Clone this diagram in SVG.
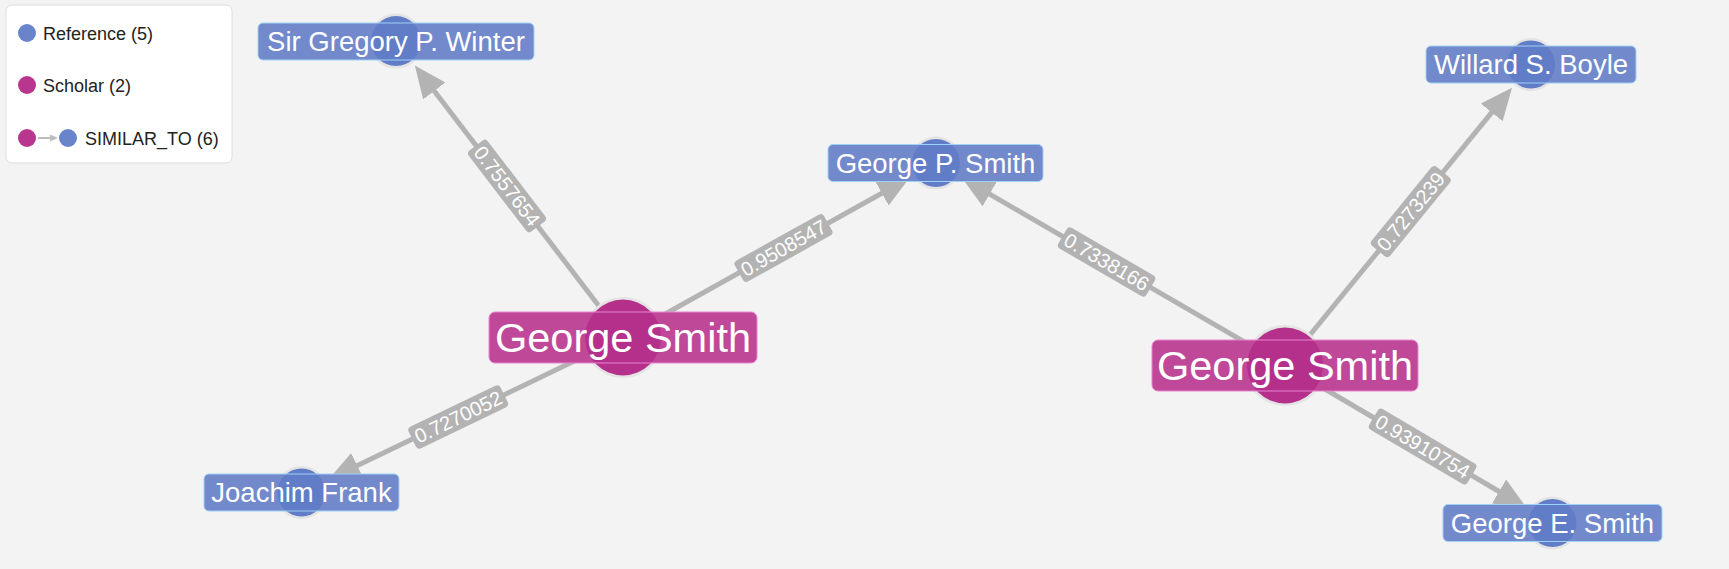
<svg xmlns="http://www.w3.org/2000/svg" width="1729" height="569" viewBox="0 0 1729 569">
<style>
.edge{stroke:#b3b3b3;stroke-width:5;fill:none}
.elbl rect{fill:#b3b3b3}
.elbl text{fill:#ffffff;font-family:"Liberation Sans",Arial,sans-serif;font-size:20px;text-anchor:middle}
.h{fill:none;stroke:#e4e4e4;stroke-width:3}
.ref .c{fill:#627dc8}
.ref .b{fill:#7289cc}
.ref .s{fill:none;stroke:#9fd0f5;stroke-width:1}
.sch .c{fill:#b5308a}
.sch .b{fill:#c04898}
.sch .s{fill:none;stroke:#e883cf;stroke-width:1}
.nt{fill:#ffffff;font-family:"Liberation Sans",Arial,sans-serif;text-anchor:middle}
.ref .nt{font-size:27.5px}
.sch .nt{font-size:41.5px}
.lg{fill:#222222;font-family:"Liberation Sans",Arial,sans-serif;font-size:18px}
</style>
<defs>
<marker id="ah" markerUnits="userSpaceOnUse" viewBox="0 0 32 30" markerWidth="32" markerHeight="30" refX="1" refY="15" orient="auto">
<path d="M0,1 L32,15 L0,29 z" fill="#b3b3b3"/>
</marker>
<marker id="ahs" markerUnits="userSpaceOnUse" viewBox="0 0 8 8" markerWidth="8" markerHeight="8" refX="1" refY="4" orient="auto">
<path d="M0,0.5 L8,4 L0,7.5 z" fill="#bdbdbd"/>
</marker>
</defs>
<rect x="0" y="0" width="1729" height="569" fill="#f3f3f3"/>

<g id="legend">
<rect x="6" y="5" width="226" height="158" rx="6" fill="#ffffff" stroke="#dddddd" stroke-width="1"/>
<circle cx="27" cy="33" r="9" fill="#6a84cc"/>
<text class="lg" x="43" y="39.5">Reference (5)</text>
<circle cx="27" cy="85" r="9" fill="#b8368e"/>
<text class="lg" x="43" y="91.5">Scholar (2)</text>
<circle cx="27" cy="138" r="9" fill="#b8368e"/>
<line x1="38" y1="138" x2="51" y2="138" stroke="#bdbdbd" stroke-width="2" marker-end="url(#ahs)"/>
<circle cx="68" cy="138" r="9" fill="#6a84cc"/>
<text class="lg" x="85" y="144.5">SIMILAR_TO (6)</text>
</g>

<g id="connectors">
<line class="edge" x1="623" y1="337.5" x2="433.7" y2="90.2" marker-end="url(#ah)"/>
<line class="edge" x1="623" y1="337.5" x2="882.7" y2="192.7" marker-end="url(#ah)"/>
<line class="edge" x1="623" y1="337.5" x2="356.4" y2="466" marker-end="url(#ah)"/>
<line class="edge" x1="1285" y1="365.5" x2="988.8" y2="193.6" marker-end="url(#ah)"/>
<line class="edge" x1="1285" y1="365.5" x2="1492.4" y2="111.7" marker-end="url(#ah)"/>
<line class="edge" x1="1285" y1="365.5" x2="1499.9" y2="492" marker-end="url(#ah)"/>
<g class="elbl" transform="translate(507,186) rotate(52.56)"><rect x="-51" y="-12" width="102" height="24" rx="4"/><text y="7">0.7557654</text></g>
<g class="elbl" transform="translate(783.5,248) rotate(-29.14)"><rect x="-51" y="-12" width="102" height="24" rx="4"/><text y="7">0.9508547</text></g>
<g class="elbl" transform="translate(458.2,417) rotate(-25.74)"><rect x="-51" y="-12" width="102" height="24" rx="4"/><text y="7">0.7270052</text></g>
<g class="elbl" transform="translate(1106.6,262) rotate(30.12)"><rect x="-51" y="-12" width="102" height="24" rx="4"/><text y="7">0.7338166</text></g>
<g class="elbl" transform="translate(1410.8,211.6) rotate(-50.74)"><rect x="-51" y="-12" width="102" height="24" rx="4"/><text y="7">0.7273239</text></g>
<g class="elbl" transform="translate(1422.6,446.6) rotate(30.49)"><rect x="-57" y="-12" width="114" height="24" rx="4"/><text y="7">0.93910754</text></g>
</g>

<g id="n-winter" class="ref">
<circle class="h" cx="396" cy="41" r="26"/>
<rect class="b" x="258" y="23" width="276" height="37" rx="5"/>
<circle class="c" cx="396" cy="41" r="25"/>
<rect class="s" x="258" y="23" width="276" height="37" rx="5"/>
<text class="nt" x="396" y="50.6">Sir Gregory P. Winter</text>
</g>
<g id="n-gpsmith" class="ref">
<circle class="h" cx="936" cy="163" r="25"/>
<rect class="b" x="828" y="144.5" width="215" height="37" rx="5"/>
<circle class="c" cx="936" cy="163" r="24"/>
<rect class="s" x="828" y="144.5" width="215" height="37" rx="5"/>
<text class="nt" x="935.5" y="172.6">George P. Smith</text>
</g>
<g id="n-boyle" class="ref">
<circle class="h" cx="1531" cy="64.5" r="25"/>
<rect class="b" x="1426" y="46" width="210" height="37" rx="5"/>
<circle class="c" cx="1531" cy="64.5" r="24"/>
<rect class="s" x="1426" y="46" width="210" height="37" rx="5"/>
<text class="nt" x="1531" y="74.1">Willard S. Boyle</text>
</g>
<g id="n-frank" class="ref">
<circle class="h" cx="301.5" cy="492.5" r="25"/>
<rect class="b" x="204" y="474" width="195" height="37" rx="5"/>
<circle class="c" cx="301.5" cy="492.5" r="24"/>
<rect class="s" x="204" y="474" width="195" height="37" rx="5"/>
<text class="nt" x="301.5" y="502.1">Joachim Frank</text>
</g>
<g id="n-gesmith" class="ref">
<circle class="h" cx="1552.5" cy="523" r="25"/>
<rect class="b" x="1443" y="504.5" width="219" height="37" rx="5"/>
<circle class="c" cx="1552.5" cy="523" r="24"/>
<rect class="s" x="1443" y="504.5" width="219" height="37" rx="5"/>
<text class="nt" x="1552.5" y="532.6">George E. Smith</text>
</g>
<g id="n-gsmith1" class="sch">
<circle class="h" cx="623" cy="337.5" r="39"/>
<rect class="b" x="489" y="312" width="268" height="51" rx="6"/>
<circle class="c" cx="623" cy="337.5" r="38"/>
<rect class="s" x="489" y="312" width="268" height="51" rx="6"/>
<text class="nt" x="623" y="352">George Smith</text>
</g>
<g id="n-gsmith2" class="sch">
<circle class="h" cx="1285" cy="365.5" r="39"/>
<rect class="b" x="1152" y="340" width="266" height="51" rx="6"/>
<circle class="c" cx="1285" cy="365.5" r="38"/>
<rect class="s" x="1152" y="340" width="266" height="51" rx="6"/>
<text class="nt" x="1285" y="380">George Smith</text>
</g>
</svg>
